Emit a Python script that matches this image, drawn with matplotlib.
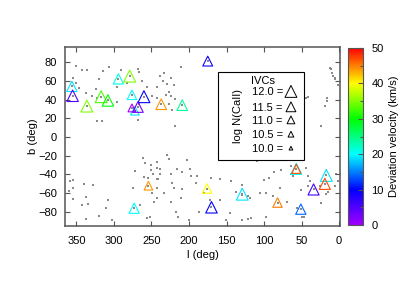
import numpy as np
import matplotlib
matplotlib.use("Agg")
import matplotlib.pyplot as plt
from matplotlib.colors import LinearSegmentedColormap, Normalize
from matplotlib.patches import Rectangle
import matplotlib.cm as cm

plt.rcParams['font.family'] = ['Liberation Sans', 'DejaVu Sans']

# IVC absorbers: galactic l, b, log N(CaII), deviation velocity
ivc_l = [356, 355, 336, 317, 308, 294, 279, 276, 260, 272, 276, 268, 237, 209, 175,
         254, 273, 176, 170, 129, 57, 57, 17, 19, 34, 82, 51]
ivc_b = [54, 44, 33, 43, 39, 62, 65, 45, 43, 28, 31, 32, 35, 34, 81,
         -52, -76, -55, -75, -61, -34, -34, -41, -50, -56, -70, -77]
ivc_logn = [11.6, 11.9, 12.0, 12.0, 11.9, 11.6, 12.0, 11.4, 12.0, 11.2, 11.0, 11.7, 11.7, 11.7, 11.5,
            11.2, 11.6, 11.4, 11.9, 12.0, 11.8, 11.3, 12.0, 11.8, 11.8, 11.4, 11.6]
ivc_vdev = [19, 5, 35, 33, 30, 21, 35, 20, 10, 19, 0, 3, 44, 24, 9,
            44, 20, 40, 10, 19, 20, 47, 19, 47, 6, 45, 14]

# sight lines (background stars)
dots_l = [350, 342, 354, 315, 306, 320, 337, 347, 351, 324, 323, 329, 291, 268, 266, 263, 283, 296,
          256, 249, 243, 323, 316, 268, 336, 267, 296,
          211, 233, 238, 224, 235, 220, 242, 227, 231, 224, 242, 218, 226, 222, 218, 229,
          11, 6, 8, 16, 19, 24, 44, 10, 5, 12, 16, 42, 2,
          358, 354, 340, 328, 354, 360, 354, 337, 343, 334, 320, 337, 311, 308, 303, 272, 261, 259,
          251, 243, 260, 255, 243, 275, 249, 247, 265, 256, 252, 243, 248, 250,
          229, 227, 242, 238, 239, 241, 224, 223, 220, 209, 202, 216, 209, 198, 197, 189, 190, 170,
          180, 172, 159, 158, 144, 138, 130, 122, 129, 211, 224, 217, 215, 200, 187, 146, 151, 129,
          122, 242, 233, 109,
          119, 106, 97, 88, 100, 93, 87, 77, 64, 64, 61, 44, 41, 39, 42, 26, 15, 6, 1, 4,
          56, 50, 47, 70, 97, 117, 79, 24, 18, 51]
dots_b = [76, 71, 63, 70, 75, 62, 47, 52, 58, 51, 42, 44, 71, 73, 69, 60, 58, 53,
          53, 44, 53, 17, 17, 18, 71, 35, 37,
          75, 68, 65, 63, 60, 55, 53, 48, 45, 44, 42, 41, 35, 29, 12, 57,
          73, 62, 65, 42, 33, 12, 42, 68, 63, 74, 38, 43, 56,
          -47, -46, -50, -51, -54, -58, -66, -64, -73, -72, -84, -87, -76, -67, -89, -36, -22, -28,
          -35, -33, -43, -44, -45, -54, -60, -69, -73, -86, -85, -65, -40, -30,
          -19, -24, -27, -34, -39, -45, -39, -49, -54, -56, -25, -34, -37, -34, -42, -42, -49, -44,
          -60, -67, -67, -45, -47, -59, -62, -63, -51, -65, -69, -80, -85, -89, -80, -81, -89, -89,
          -87, -54, -60, -26,
          -65, -60, -60, -63, -46, -44, -37, -35, -31, -39, -42, -33, -42, -47, -52, -52, -59, -52, -47, -40,
          -76, -85, -85, -69, -85, -86, -54, -70, -61, -57]

legend_logn = [12.0, 11.5, 11.0, 10.5, 10.0]

# colour scale like gnuplot rainbow: purple -> blue -> cyan -> green -> yellow -> red
cmap = LinearSegmentedColormap.from_list(
    "vdev", [(0.0, '#a000ff'), (0.2, '#0000ff'), (0.4, '#00ffff'),
             (0.6, '#00ff00'), (0.8, '#ffff00'), (1.0, '#ff0000')])
norm = Normalize(0, 50)


def tri_size(logn):
    # triangle width in px grows with column density
    px = 3.7 + (np.asarray(logn) - 10.0) * 4.1
    return (px * 0.72) ** 2


fig = plt.figure(figsize=(4.07, 2.85), dpi=100)
ax = fig.add_axes([0.160, 0.207, 0.675, 0.628])
cax = fig.add_axes([0.855, 0.210, 0.037, 0.622])

ax.scatter(dots_l, dots_b, s=0.7, c='#8a8a8a', marker='s', linewidths=0, zorder=1)
ax.scatter(ivc_l, ivc_b, s=0.7, c='#8a8a8a', marker='s', linewidths=0, zorder=1)

cols = cmap(norm(np.array(ivc_vdev)))
ax.scatter(ivc_l, ivc_b, s=tri_size(ivc_logn), marker='^', facecolors='none',
           edgecolors=cols, linewidths=0.8, zorder=3)

ax.set_xlim(365, -1)
ax.set_ylim(-95, 96)
ax.set_xticks(np.arange(0, 351, 50))
ax.set_yticks(np.arange(-80, 81, 20))
ax.tick_params(direction='in', top=True, right=True, labelsize=8, length=3.5,
               width=0.8, color='#555555')
ax.tick_params(axis='x', pad=7)
ax.tick_params(axis='y', pad=6)
for sp in ax.spines.values():
    sp.set_color('#555555')
    sp.set_linewidth(1.1)
ax.set_xlabel("l (deg)", fontsize=8, labelpad=3)
ax.set_ylabel("b (deg)", fontsize=8, labelpad=0)

# legend box for triangle sizes
ax.add_patch(Rectangle((0.556, 0.369), 0.313, 0.491, transform=ax.transAxes,
                       facecolor='white', edgecolor='black', linewidth=0.8, zorder=4))
ax.text(0.676, 0.812, "IVCs", transform=ax.transAxes, fontsize=8, va='center', ha='left', zorder=5)
ax.text(0.628, 0.615, "log N(CaII)", transform=ax.transAxes, fontsize=8, rotation=90,
        va='center', ha='center', zorder=5)
rows_y = [0.747, 0.661, 0.588, 0.508, 0.430]
for val, yy in zip(legend_logn, rows_y):
    ax.text(0.679, yy, "%.1f =" % val, transform=ax.transAxes, fontsize=8,
            va='center', ha='left', zorder=5)
    ax.scatter([0.822], [yy + 0.005], s=tri_size(val), marker='^', facecolors='none',
               edgecolors='black', linewidths=0.7, transform=ax.transAxes, zorder=5)

# colorbar
sm = cm.ScalarMappable(norm=norm, cmap=cmap)
cb = fig.colorbar(sm, cax=cax)
cb.set_ticks(np.arange(0, 51, 10))
cb.ax.yaxis.set_minor_locator(matplotlib.ticker.MultipleLocator(5))
cb.ax.tick_params(which='both', direction='in', labelsize=8, color='#555555', width=0.8)
cb.ax.tick_params(which='major', length=3.5, pad=6)
cb.ax.tick_params(which='minor', length=2)
cb.outline.set_edgecolor('#555555')
cb.set_label("Deviation velocity (km/s)", fontsize=8, labelpad=4)

fig.savefig("out.png", dpi=100)
